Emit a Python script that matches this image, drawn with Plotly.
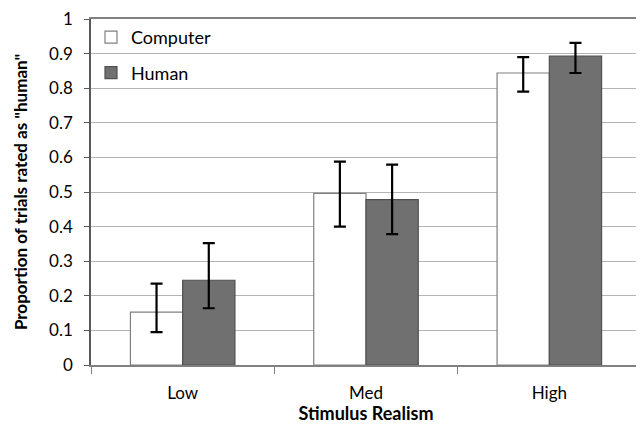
import plotly.graph_objects as go

categories = ["Low", "Med", "High"]
computer = [0.153, 0.496, 0.844]
computer_plus = [0.082, 0.092, 0.046]
computer_minus = [0.058, 0.096, 0.054]
human = [0.245, 0.478, 0.893]
human_plus = [0.107, 0.101, 0.038]
human_minus = [0.081, 0.100, 0.049]
y_ticks = [0, 0.1, 0.2, 0.3, 0.4, 0.5, 0.6, 0.7, 0.8, 0.9, 1]
y_labels = ["0", "0.1", "0.2", "0.3", "0.4", "0.5", "0.6", "0.7", "0.8", "0.9", "1"]

font = "Lato, Open Sans, sans-serif"

fig = go.Figure()
fig.add_trace(go.Bar(
    x=categories, y=computer, name="Computer", legendgroup="c",
    marker=dict(color="white", line=dict(color="#808080", width=1.2)),
    error_y=dict(type="data", array=computer_plus, arrayminus=computer_minus,
                 symmetric=False, color="black", thickness=2.2, width=6),
))
fig.add_trace(go.Bar(
    x=categories, y=human, name="Human", legendgroup="h",
    marker=dict(color="#707070", line=dict(color="#505050", width=1.2)),
    error_y=dict(type="data", array=human_plus, arrayminus=human_minus,
                 symmetric=False, color="black", thickness=2.2, width=6),
))

# page body has an 8px default margin, so the figure is sized to 636x416
fig.update_layout(
    width=636, height=416,
    margin=dict(l=83, r=3, t=11, b=59, autoexpand=False),
    paper_bgcolor="white", plot_bgcolor="white",
    barmode="group", bargap=0.43, bargroupgap=0,
    font=dict(family=font, color="black", size=17),
    showlegend=True,
    legend=dict(x=0.0, y=1.0, xanchor="left", yanchor="top",
                bgcolor="rgba(0,0,0,0)", font=dict(size=18),
                tracegroupgap=9),
    xaxis=dict(
        title=dict(text="<b>Stimulus Realism</b>", font=dict(size=18), standoff=0),
        showgrid=False, showline=True, linecolor="#808080", linewidth=1.5,
        mirror=True,
        ticks="outside", tickson="boundaries", ticklen=7, tickcolor="#808080",
        ticklabelstandoff=12,
        tickfont=dict(size=17), automargin=False,
    ),
    yaxis=dict(
        title=dict(text="<b>Proportion of trials rated as \"human\"</b>", font=dict(size=17), standoff=17),
        range=[0, 1], tickvals=y_ticks, ticktext=y_labels,
        showgrid=True, gridcolor="#b4b4b4", gridwidth=1.3,
        showline=True, linecolor="#595959", linewidth=1.5,
        ticks="outside", ticklen=5, tickcolor="#595959",
        ticklabelstandoff=8, ticklabeloverflow="allow",
        tickfont=dict(size=17), zeroline=False, automargin=False,
    ),
)

fig.write_html("out.html")
